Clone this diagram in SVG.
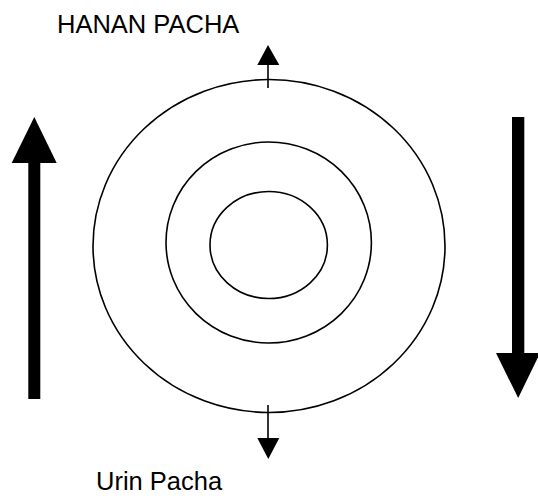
<svg xmlns="http://www.w3.org/2000/svg" width="538" height="496" viewBox="0 0 538 496">
  <style>
    .ring { fill: none; stroke: #000; stroke-width: 1.6; }
    .thin { stroke: #000; stroke-width: 1.6; fill: none; }
    .solid { fill: #000; stroke: none; }
    .label { font-family: "Liberation Sans", Arial, sans-serif; font-size: 25.5px; fill: #000; }
  </style>
  <rect width="538" height="496" fill="#fff"/>

  <!-- concentric worlds -->
  <g id="outer-ring">
    <ellipse class="ring" cx="269" cy="246" rx="176" ry="166.5"/>
  </g>
  <g id="middle-ring">
    <ellipse class="ring" cx="268.7" cy="242.5" rx="102.7" ry="100.5"/>
  </g>
  <g id="inner-ring">
    <ellipse class="ring" cx="268.7" cy="245" rx="58.7" ry="53.5"/>
  </g>

  <g id="label-hanan">
    <text class="label" x="57" y="33">HANAN PACHA</text>
  </g>
  <g id="label-urin">
    <text class="label" x="96" y="490">Urin Pacha</text>
  </g>

  <g id="connectors">
    <!-- upward pointer at top of outer ring -->
    <line class="thin" x1="268" y1="64" x2="268" y2="88"/>
    <polygon class="solid" points="268,45 257.3,65 279.3,65"/>
    <!-- downward pointer at bottom of outer ring -->
    <line class="thin" x1="268" y1="405" x2="268" y2="439"/>
    <polygon class="solid" points="257.3,438 279.3,438 268.3,459"/>
    <!-- large rising arrow -->
    <rect class="solid" x="28.3" y="162" width="12" height="237"/>
    <polygon class="solid" points="34.3,117 11.7,163 56.7,163"/>
    <!-- large descending arrow -->
    <rect class="solid" x="512" y="117" width="12.3" height="237"/>
    <polygon class="solid" points="496,353 540,353 518.2,398"/>
  </g>
</svg>
